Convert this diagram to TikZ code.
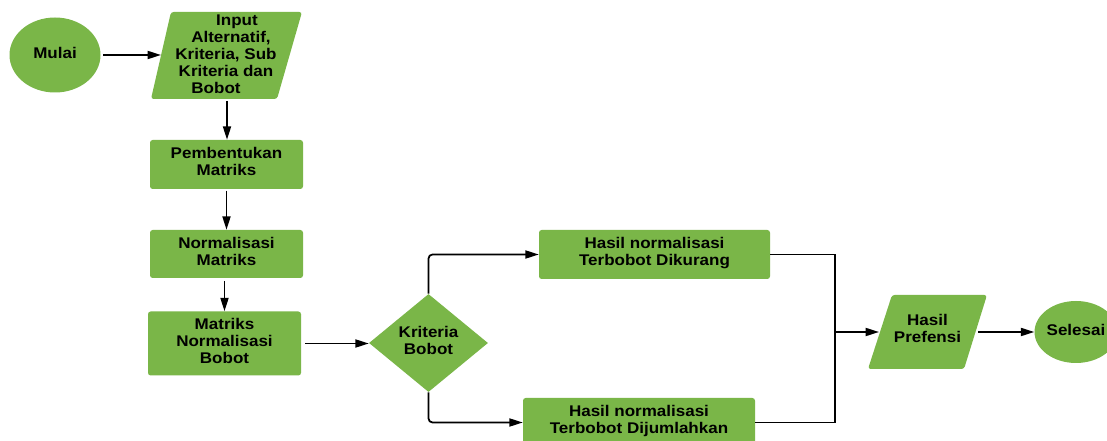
\documentclass[tikz,border=0pt]{standalone}
\usepackage{fontspec}
\setmainfont{Liberation Sans}[FakeStretch=1.1]
\usetikzlibrary{shapes.geometric,arrows.meta,calc}
\definecolor{lgreen}{HTML}{7AB648}
\begin{document}
\begin{tikzpicture}[x=0.75pt,y=-0.75pt,
  every node/.style={font=\fontsize{11.6pt}{12.75pt}\selectfont\bfseries, text=black, align=center},
  up/.style={text depth=4pt},
  box/.style={rectangle, rounded corners=2pt, fill=lgreen, inner sep=0pt, up},
  arr/.style={-{Triangle[length=10pt,width=6pt]}, line width=1.3pt},
  ln/.style={line width=1.3pt}]
\clip (0,0) rectangle (1107,441);
\fill[white] (0,0) rectangle (1107,441);

% start
\node[ellipse, fill=lgreen, minimum width={91*0.75pt}, minimum height={75*0.75pt}, inner sep=0pt, text depth=3pt] (mulai) at (55,55) {Mulai};

% input parallelogram
\fill[lgreen, rounded corners=2pt] (171,12) -- (302,12) -- (277,99) -- (151,99) -- cycle;
\node (input) at (226,54) {\hspace*{16.5pt}Input\\\hspace*{7.5pt}Alternatif,\\Kriteria, Sub\\Kriteria dan\hspace*{9pt}\\Bobot\hspace*{15pt}};
\coordinate (inL) at (161,55);
\coordinate (inB) at (227,101);
\draw[arr, shorten <=2pt] (mulai) -- (inL);

% process boxes
\node[box, minimum width={153*0.75pt}, minimum height={49*0.75pt}] (pemb) at (226.5,164.5) {Pembentukan\\Matriks};
\draw[arr] (inB) -- (inB |- pemb.north);
\node[box, minimum width={153*0.75pt}, minimum height={48*0.75pt}] (norm) at (226.5,254) {Normalisasi\\Matriks};
\draw[arr, shorten <=1pt] (pemb) -- (norm);
\node[box, minimum width={153*0.75pt}, minimum height={64*0.75pt}] (mnb) at (224.5,343.5) {Matriks\\Normalisasi\\Bobot};
\draw[arr, shorten <=2pt] (mnb.north |- norm.south) -- (mnb.north);

% decision
\node[diamond, fill=lgreen, minimum width={119*0.75pt}, minimum height={98*0.75pt}, inner sep=0pt, up] (kb) at (428.5,343) {Kriteria\\Bobot};
\draw[arr, shorten <=3pt] (mnb.east) -- (mnb.east -| kb.west);

% branches
\node[box, minimum width={231*0.75pt}, minimum height={49*0.75pt}] (dk) at (654.5,254.5) {Hasil normalisasi\\Terbobot Dikurang};
\node[box, minimum width={232*0.75pt}, minimum height={49*0.75pt}] (dj) at (639,422.5) {Hasil normalisasi\\Terbobot Dijumlahkan};
\draw[arr, rounded corners=3pt] (kb.north) |- (dk.west);
\draw[arr, rounded corners=3pt] (kb.south) |- (dj.west);

% join
\coordinate (jn) at (835,332);
\draw[ln] (dk.east) -| (jn) |- (dj.east);

% output parallelogram
\fill[lgreen, rounded corners=2pt] (892,295) -- (987,295) -- (964,369) -- (868,369) -- cycle;
\node (pref) at (927.5,328.5) {Hasil\\Prefensi};
\coordinate (prL) at (879,332);
\coordinate (prR) at (977,332);
\draw[arr] (jn) -- (prL);

% end
\node[ellipse, fill=lgreen, minimum width={78*0.75pt}, minimum height={62*0.75pt}, inner sep=0pt, text depth=3pt] (sel) at (1076,332) {Selesai};
\draw[arr, shorten <=1pt] (prR) -- (sel);
\end{tikzpicture}
\end{document}
